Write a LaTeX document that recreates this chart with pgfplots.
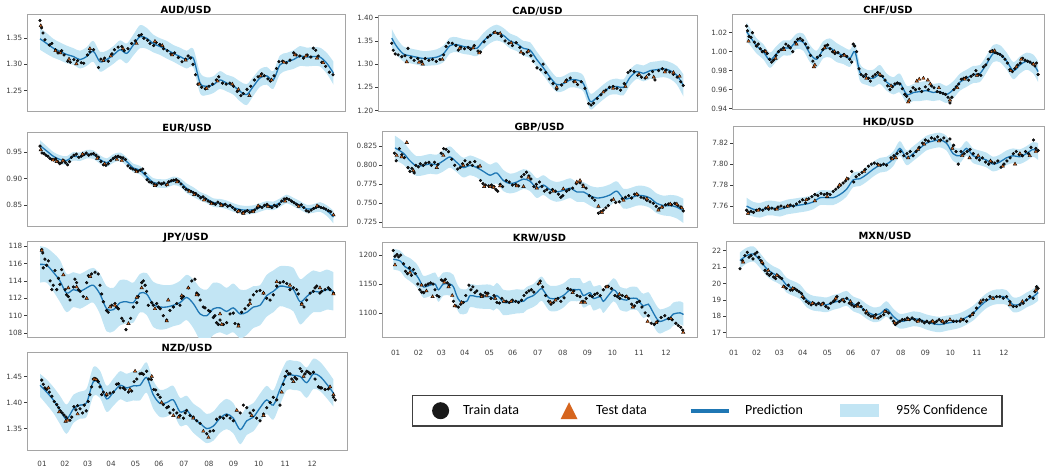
\documentclass[border=0pt]{standalone}
\usepackage{fontspec}
\setmainfont{DejaVu Sans}
\newfontfamily\legendfont{Carlito}
\usepackage{pgfplots}
\usepackage{pgfplotstable}
\pgfplotsset{compat=1.18}
\usepgfplotslibrary{fillbetween}

\definecolor{bandblue}{RGB}{194,229,244}
\definecolor{predblue}{RGB}{31,119,180}
\definecolor{testorange}{RGB}{214,101,30}
\definecolor{framegray}{RGB}{165,165,165}
\definecolor{ticktext}{RGB}{60,60,60}
\definecolor{dotblack}{RGB}{25,25,25}

\pgfplotsset{
  panel/.style={
    scale only axis,
    axis line style={draw=framegray, line width=1pt},
    xtick=\empty,
    ytick pos=left,
    tick align=outside,
    major tick length=3pt,
    ytick style={draw=ticktext, line width=0.6pt},
    yticklabel style={font=\fontsize{7.2}{8.6}\selectfont, text=ticktext, inner xsep=1.5pt},
    title style={font=\bfseries\fontsize{9.9}{11}\selectfont, at={(0.5,1)}, anchor=base, yshift=-4.5pt, inner sep=0pt},
    /pgf/number format/assume math mode=true,
    scaled y ticks=false,
  },
  months/.style={
    xtick={1,1.93,2.86,3.81,4.81,5.76,6.78,7.80,8.80,9.82,10.90,12},
    xticklabels={01,02,03,04,05,06,07,08,09,10,11,12},
    xtick style={draw=none},
    xticklabel style={font=\fontsize{7.2}{8.6}\selectfont, text=ticktext, yshift=#1},
  },
  dec/.style={yticklabel style={/pgf/number format/fixed, /pgf/number format/fixed zerofill, /pgf/number format/precision=#1}},
  predline/.style={color=predblue, line width=1.3pt, smooth, forget plot},
  train/.style={only marks, mark=*, mark size=1.4pt, mark options={draw=none, fill=dotblack}, forget plot},
  test/.style={only marks, mark=triangle*, mark size=2pt, mark options={draw=none, fill=testorange}, forget plot},
}

% confidence band (mean +/- half width) and the predicted mean
\newcommand{\bandandmean}[1]{%
  \addplot[draw=none, smooth, name path=U, forget plot] table[x=x, y expr=\thisrow{m}+\thisrow{w}] {#1};
  \addplot[draw=none, smooth, name path=L, forget plot] table[x=x, y expr=\thisrow{m}-\thisrow{w}] {#1};
  \addplot[fill=bandblue, draw=none, forget plot] fill between[of=U and L];
  \addplot[predline] table[x=x, y=m] {#1};
}

% ---------------- prediction tables: x (month), mean, half width ----------------
\pgfplotstableread{
x m w
0.92 1.349 0.021
1.19 1.340 0.020
1.46 1.331 0.018
1.73 1.325 0.017
2.00 1.319 0.017
2.28 1.315 0.016
2.55 1.309 0.017
2.82 1.315 0.018
3.09 1.325 0.020
3.36 1.305 0.019
3.63 1.309 0.017
3.91 1.318 0.017
4.18 1.328 0.018
4.45 1.321 0.019
4.72 1.337 0.020
4.99 1.353 0.022
5.26 1.350 0.020
5.53 1.340 0.017
5.81 1.334 0.016
6.08 1.328 0.017
6.35 1.321 0.016
6.62 1.315 0.017
6.89 1.309 0.017
7.16 1.312 0.018
7.44 1.264 0.020
7.71 1.258 0.017
7.98 1.261 0.016
8.25 1.270 0.017
8.52 1.264 0.016
8.79 1.259 0.017
9.07 1.248 0.019
9.34 1.242 0.020
9.61 1.258 0.018
9.88 1.274 0.017
10.15 1.278 0.017
10.42 1.270 0.017
10.69 1.299 0.018
10.97 1.305 0.017
11.24 1.309 0.018
11.51 1.316 0.019
11.78 1.314 0.018
12.05 1.315 0.018
12.32 1.314 0.018
12.60 1.302 0.020
12.87 1.283 0.022
}\audpred

\pgfplotstableread{
x m w
0.84 1.356 0.020
1.04 1.338 0.018
1.31 1.322 0.016
1.58 1.318 0.016
1.85 1.315 0.016
2.13 1.312 0.016
2.40 1.313 0.016
2.67 1.315 0.017
2.94 1.322 0.018
3.21 1.340 0.017
3.48 1.342 0.016
3.75 1.338 0.016
4.03 1.336 0.016
4.30 1.334 0.017
4.57 1.350 0.017
4.84 1.362 0.017
5.11 1.368 0.017
5.38 1.362 0.016
5.65 1.350 0.016
5.93 1.344 0.016
6.20 1.334 0.016
6.47 1.330 0.017
6.74 1.310 0.017
7.01 1.292 0.016
7.28 1.272 0.016
7.55 1.256 0.016
7.82 1.258 0.016
8.10 1.266 0.016
8.37 1.266 0.017
8.64 1.258 0.017
8.91 1.220 0.017
9.18 1.228 0.016
9.45 1.240 0.016
9.72 1.250 0.016
10.00 1.252 0.017
10.27 1.250 0.017
10.54 1.272 0.017
10.81 1.284 0.016
11.08 1.280 0.017
11.35 1.286 0.018
11.62 1.288 0.018
11.90 1.290 0.018
12.17 1.286 0.018
12.44 1.276 0.020
12.71 1.254 0.024
}\cadpred

\pgfplotstableread{
x m w
1.52 1.021 0.010
1.66 1.016 0.009
1.93 1.006 0.008
2.20 1.000 0.008
2.47 0.991 0.008
2.74 0.998 0.008
3.02 1.004 0.008
3.29 1.004 0.008
3.56 1.011 0.008
3.83 1.010 0.009
4.10 0.998 0.009
4.37 0.992 0.009
4.64 1.002 0.009
4.91 1.004 0.010
5.19 0.999 0.010
5.46 0.996 0.009
5.73 0.993 0.009
5.93 1.000 0.009
6.14 0.978 0.009
6.41 0.973 0.008
6.68 0.972 0.009
6.95 0.976 0.010
7.22 0.968 0.009
7.49 0.964 0.009
7.76 0.967 0.010
8.04 0.955 0.009
8.31 0.957 0.009
8.58 0.958 0.010
8.85 0.959 0.010
9.12 0.957 0.009
9.39 0.958 0.009
9.66 0.955 0.009
9.94 0.960 0.009
10.21 0.968 0.009
10.48 0.972 0.009
10.75 0.976 0.009
11.02 0.977 0.009
11.29 0.987 0.009
11.56 0.998 0.009
11.83 0.998 0.009
12.11 0.990 0.009
12.38 0.980 0.009
12.65 0.986 0.009
12.92 0.990 0.009
13.19 0.987 0.010
13.39 0.979 0.011
}\chfpred

\pgfplotstableread{
x m w
0.92 0.962 0.010
1.19 0.952 0.009
1.46 0.942 0.008
1.73 0.936 0.008
2.00 0.934 0.008
2.28 0.942 0.008
2.55 0.941 0.008
2.82 0.946 0.008
3.09 0.945 0.008
3.36 0.936 0.008
3.63 0.930 0.008
3.91 0.938 0.008
4.18 0.941 0.008
4.45 0.932 0.008
4.72 0.920 0.008
4.99 0.916 0.008
5.26 0.904 0.008
5.53 0.893 0.008
5.81 0.891 0.008
6.08 0.891 0.008
6.35 0.896 0.008
6.62 0.893 0.008
6.89 0.882 0.009
7.16 0.875 0.009
7.44 0.867 0.008
7.71 0.862 0.008
7.98 0.855 0.008
8.25 0.854 0.008
8.52 0.851 0.008
8.79 0.846 0.008
9.07 0.842 0.008
9.34 0.841 0.008
9.61 0.842 0.008
9.88 0.846 0.008
10.15 0.850 0.008
10.42 0.849 0.008
10.69 0.855 0.008
10.97 0.862 0.008
11.24 0.856 0.008
11.51 0.850 0.008
11.78 0.843 0.008
12.05 0.844 0.008
12.32 0.847 0.009
12.60 0.840 0.010
12.87 0.828 0.012
}\eurpred

\pgfplotstableread{
x m w
0.97 0.823 0.016
1.31 0.816 0.015
1.58 0.806 0.014
1.85 0.799 0.013
2.13 0.800 0.013
2.40 0.802 0.013
2.67 0.801 0.013
2.94 0.806 0.014
3.21 0.811 0.014
3.48 0.804 0.013
3.75 0.797 0.013
4.03 0.800 0.013
4.30 0.797 0.013
4.57 0.792 0.014
4.84 0.787 0.014
5.11 0.790 0.014
5.38 0.780 0.014
5.65 0.776 0.013
5.93 0.778 0.013
6.20 0.782 0.013
6.47 0.779 0.013
6.74 0.770 0.013
7.01 0.774 0.013
7.28 0.768 0.013
7.55 0.765 0.013
7.82 0.767 0.013
8.10 0.770 0.013
8.37 0.765 0.013
8.64 0.765 0.013
8.91 0.760 0.013
9.18 0.757 0.014
9.45 0.758 0.014
9.72 0.761 0.014
10.00 0.766 0.013
10.27 0.756 0.013
10.54 0.757 0.013
10.81 0.760 0.013
11.08 0.760 0.013
11.35 0.757 0.013
11.62 0.750 0.013
11.90 0.747 0.013
12.17 0.747 0.014
12.44 0.745 0.015
12.71 0.740 0.016
}\gbppred

\pgfplotstableread{
x m w
1.52 7.760 0.008
1.79 7.757 0.007
2.07 7.756 0.007
2.34 7.758 0.007
2.61 7.758 0.007
2.88 7.757 0.007
3.15 7.759 0.007
3.42 7.760 0.007
3.69 7.761 0.007
3.96 7.762 0.007
4.24 7.764 0.007
4.51 7.768 0.007
4.78 7.768 0.007
5.05 7.768 0.007
5.32 7.771 0.007
5.59 7.776 0.007
5.86 7.785 0.007
6.13 7.786 0.007
6.40 7.790 0.007
6.67 7.795 0.007
6.95 7.799 0.007
7.22 7.800 0.007
7.49 7.805 0.007
7.76 7.815 0.007
8.03 7.806 0.007
8.30 7.810 0.007
8.57 7.815 0.007
8.84 7.820 0.007
9.11 7.822 0.007
9.39 7.823 0.007
9.66 7.820 0.007
9.93 7.810 0.007
10.20 7.808 0.007
10.47 7.815 0.007
10.74 7.808 0.007
11.01 7.806 0.007
11.28 7.804 0.007
11.56 7.800 0.007
11.83 7.802 0.007
12.10 7.806 0.007
12.37 7.808 0.007
12.64 7.807 0.007
12.91 7.810 0.007
13.18 7.814 0.007
13.39 7.812 0.008
}\hkdpred

\pgfplotstableread{
x m w
0.92 115.9 2.1
1.19 115.8 2.0
1.46 115.0 2.2
1.73 114.0 2.4
2.00 112.6 2.2
2.28 113.0 2.0
2.55 112.8 2.0
2.82 113.2 2.0
3.09 113.5 2.0
3.36 112.5 2.3
3.63 110.8 2.6
3.91 110.7 2.5
4.18 111.5 2.6
4.45 111.6 2.5
4.72 111.5 2.3
4.99 112.6 2.2
5.26 112.5 2.4
5.53 111.3 2.6
5.81 111.0 2.6
6.08 111.0 2.5
6.35 111.2 2.4
6.62 111.5 2.5
6.89 112.1 2.6
7.16 111.4 2.8
7.44 110.2 3.0
7.71 110.0 3.0
7.98 110.8 3.0
8.25 110.9 2.8
8.52 110.5 2.7
8.79 110.9 2.8
9.07 110.2 2.8
9.34 110.4 2.6
9.61 111.0 2.4
9.88 111.2 2.3
10.15 112.3 2.4
10.42 112.8 2.4
10.69 113.4 2.3
10.97 113.3 2.4
11.24 113.0 2.5
11.51 111.6 2.6
11.78 112.2 2.5
12.05 112.8 2.4
12.32 112.7 2.3
12.60 113.0 2.3
12.87 112.8 2.2
}\jpypred

\pgfplotstableread{
x m w
0.90 1193 18
1.18 1190 18
1.38 1180 19
1.58 1175 20
1.85 1165 20
1.99 1155 20
2.13 1145 19
2.40 1148 19
2.60 1150 20
2.74 1140 21
2.94 1150 20
3.21 1150 20
3.35 1145 21
3.48 1130 22
3.62 1120 22
3.89 1120 21
4.03 1130 20
4.30 1128 20
4.57 1128 21
4.84 1128 21
4.98 1125 21
5.11 1130 22
5.25 1125 22
5.38 1118 22
5.65 1118 21
5.93 1120 21
6.20 1120 20
6.33 1125 20
6.60 1130 20
6.74 1135 21
6.94 1142 21
7.15 1130 21
7.28 1125 22
7.55 1125 22
7.82 1130 21
8.10 1140 20
8.37 1140 20
8.50 1140 20
8.64 1130 21
8.91 1135 21
9.05 1125 21
9.32 1128 20
9.45 1120 20
9.65 1130 20
9.86 1140 20
10.00 1135 20
10.13 1125 20
10.40 1122 20
10.54 1125 20
10.81 1125 20
10.94 1118 20
11.08 1112 21
11.28 1115 21
11.42 1105 22
11.62 1090 22
11.76 1085 21
11.96 1088 20
12.17 1092 20
12.30 1098 20
12.57 1100 20
12.71 1097 20
}\krwpred

\pgfplotstableread{
x m w
1.25 21.40 0.50
1.52 21.70 0.48
1.80 21.80 0.46
2.07 21.40 0.45
2.34 20.90 0.45
2.61 20.60 0.45
2.88 20.40 0.45
3.15 19.90 0.45
3.42 19.70 0.45
3.69 19.50 0.45
3.97 19.00 0.45
4.24 18.80 0.45
4.51 18.75 0.45
4.78 18.70 0.45
5.05 18.85 0.45
5.32 18.95 0.45
5.59 19.10 0.45
5.87 18.75 0.45
6.14 18.60 0.45
6.41 18.30 0.45
6.68 18.10 0.45
6.95 18.15 0.45
7.22 18.45 0.47
7.49 18.00 0.47
7.76 17.70 0.45
8.04 17.75 0.45
8.31 17.85 0.45
8.58 17.80 0.45
8.85 17.65 0.46
9.12 17.55 0.47
9.39 17.50 0.47
9.66 17.58 0.46
9.94 17.65 0.45
10.21 17.75 0.45
10.48 17.95 0.45
10.75 18.20 0.45
11.02 18.60 0.45
11.29 18.95 0.45
11.56 19.15 0.45
11.83 19.20 0.45
12.10 19.15 0.45
12.38 18.70 0.45
12.65 18.75 0.45
12.92 19.00 0.45
13.19 19.20 0.47
13.39 19.45 0.50
}\mxnpred

\pgfplotstableread{
x m w
0.92 1.433 0.022
1.19 1.420 0.024
1.46 1.405 0.025
1.73 1.386 0.027
2.00 1.368 0.028
2.28 1.388 0.027
2.55 1.395 0.026
2.82 1.400 0.027
3.09 1.440 0.028
3.36 1.435 0.026
3.63 1.407 0.025
3.91 1.420 0.026
4.18 1.433 0.027
4.45 1.428 0.027
4.72 1.432 0.028
4.99 1.433 0.029
5.26 1.448 0.029
5.53 1.415 0.027
5.81 1.398 0.026
6.08 1.400 0.027
6.35 1.405 0.027
6.62 1.382 0.027
6.89 1.385 0.028
7.16 1.370 0.028
7.44 1.360 0.029
7.71 1.350 0.028
7.98 1.355 0.028
8.25 1.370 0.028
8.52 1.378 0.029
8.79 1.370 0.029
9.07 1.348 0.028
9.34 1.365 0.027
9.61 1.372 0.027
9.88 1.390 0.027
10.15 1.405 0.027
10.42 1.395 0.028
10.69 1.425 0.029
10.97 1.452 0.028
11.24 1.452 0.028
11.51 1.450 0.028
11.78 1.438 0.029
12.05 1.455 0.029
12.32 1.450 0.028
12.60 1.435 0.027
12.87 1.418 0.026
}\nzdpred

\begin{document}
\begin{tikzpicture}

% ---------------- AUD/USD ----------------
\begin{axis}[panel, at={(27pt,357pt)}, anchor=south west, width=318pt, height=97pt,
  xmin=0.389, xmax=13.34, ymin=1.2086, ymax=1.3946,
  ytick={1.25,1.30,1.35}, dec=2, title={AUD/USD}]
\bandandmean{\audpred}
\addplot[train] coordinates {(0.92,1.384) (0.98,1.370) (1.04,1.360) (1.12,1.347) (1.30,1.337) (1.40,1.340) (1.55,1.328) (1.65,1.322) (1.80,1.326) (1.90,1.318) (2.05,1.306) (2.15,1.304) (2.30,1.309) (2.45,1.307) (2.60,1.303) (2.70,1.302) (2.85,1.318) (2.95,1.324) (3.10,1.328) (3.30,1.294) (3.40,1.310) (3.55,1.312) (3.70,1.306) (3.85,1.320) (3.95,1.328) (4.10,1.333) (4.25,1.334) (4.35,1.326) (4.50,1.330) (4.65,1.340) (4.80,1.345) (4.95,1.355) (5.05,1.357) (5.15,1.350) (5.30,1.346) (5.40,1.340) (5.55,1.336) (5.65,1.342) (5.80,1.338) (5.95,1.330) (6.10,1.326) (6.25,1.320) (6.40,1.322) (6.55,1.313) (6.70,1.305) (6.85,1.310) (6.95,1.316) (7.05,1.312) (7.15,1.300) (7.25,1.280) (7.35,1.262) (7.50,1.256) (7.65,1.253) (7.80,1.258) (7.95,1.262) (8.10,1.270) (8.20,1.276) (8.35,1.264) (8.50,1.262) (8.65,1.264) (8.80,1.258) (8.95,1.248) (9.10,1.240) (9.20,1.244) (9.35,1.252) (9.50,1.258) (9.65,1.270) (9.80,1.276) (9.95,1.282) (10.05,1.278) (10.20,1.272) (10.30,1.268) (10.45,1.278) (10.55,1.292) (10.65,1.305) (10.80,1.306) (10.95,1.303) (11.10,1.308) (11.25,1.322) (11.35,1.318) (11.50,1.316) (11.65,1.312) (11.80,1.318) (11.95,1.314) (12.05,1.331) (12.15,1.327) (12.25,1.316) (12.40,1.304) (12.55,1.296) (12.70,1.285) (12.85,1.280)};
\addplot[test] coordinates {(0.95,1.374) (1.55,1.326) (1.75,1.322) (2.10,1.310) (2.40,1.301) (2.95,1.330) (3.50,1.307) (3.80,1.316) (4.30,1.330) (4.85,1.340) (5.60,1.344) (5.90,1.336) (6.30,1.318) (6.85,1.308) (7.40,1.262) (7.70,1.254) (8.15,1.268) (8.75,1.262) (9.00,1.252) (9.45,1.240) (9.90,1.278) (10.35,1.270) (10.85,1.304) (11.30,1.318) (11.75,1.316) (12.20,1.312) (12.45,1.303)};
\end{axis}

% ---------------- CAD/USD ----------------
\begin{axis}[panel, at={(378pt,357pt)}, anchor=south west, width=319pt, height=96pt,
  xmin=0.280, xmax=13.26, ymin=1.197, ymax=1.4036,
  ytick={1.20,1.25,1.30,1.35,1.40}, dec=2, title={CAD/USD}]
\bandandmean{\cadpred}
\addplot[train] coordinates {(0.84,1.345) (0.90,1.330) (0.98,1.322) (1.10,1.320) (1.25,1.316) (1.38,1.318) (1.50,1.334) (1.62,1.314) (1.75,1.308) (1.90,1.312) (2.05,1.306) (2.20,1.312) (2.35,1.308) (2.50,1.310) (2.65,1.306) (2.80,1.310) (2.95,1.320) (3.05,1.338) (3.15,1.346) (3.30,1.345) (3.45,1.340) (3.55,1.330) (3.65,1.336) (3.80,1.333) (3.95,1.336) (4.05,1.332) (4.20,1.340) (4.35,1.328) (4.45,1.326) (4.60,1.348) (4.75,1.358) (4.85,1.362) (5.00,1.368) (5.15,1.366) (5.30,1.360) (5.45,1.350) (5.60,1.345) (5.75,1.340) (5.90,1.346) (6.05,1.336) (6.20,1.322) (6.35,1.326) (6.50,1.318) (6.60,1.306) (6.75,1.292) (6.90,1.288) (7.00,1.300) (7.10,1.282) (7.25,1.268) (7.40,1.258) (7.55,1.246) (7.75,1.255) (7.95,1.266) (8.10,1.270) (8.25,1.262) (8.40,1.256) (8.55,1.262) (8.70,1.248) (8.85,1.215) (8.95,1.212) (9.05,1.216) (9.20,1.226) (9.35,1.234) (9.55,1.244) (9.70,1.250) (9.85,1.252) (10.00,1.248) (10.15,1.244) (10.30,1.258) (10.45,1.282) (10.55,1.286) (10.70,1.284) (10.85,1.276) (11.00,1.272) (11.15,1.270) (11.30,1.278) (11.45,1.284) (11.55,1.266) (11.70,1.286) (11.85,1.290) (12.00,1.287) (12.15,1.283) (12.30,1.278) (12.45,1.272) (12.60,1.262) (12.70,1.254)};
\addplot[test] coordinates {(1.45,1.305) (1.95,1.304) (2.10,1.300) (2.90,1.310) (3.60,1.334) (4.15,1.335) (4.40,1.324) (5.05,1.368) (5.25,1.366) (5.70,1.346) (6.10,1.326) (6.40,1.328) (7.55,1.250) (7.90,1.262) (8.30,1.262) (9.45,1.240) (9.85,1.248) (10.35,1.252) (10.90,1.278) (11.20,1.272) (11.50,1.272) (11.95,1.283) (12.30,1.282) (12.55,1.274)};
\end{axis}

% ---------------- CHF/USD ----------------
\begin{axis}[panel, at={(732pt,359pt)}, anchor=south west, width=312pt, height=95pt,
  xmin=0.927, xmax=13.63, ymin=0.9386, ymax=1.0386,
  ytick={0.94,0.96,0.98,1.00,1.02}, dec=2, title={CHF/USD}]
\bandandmean{\chfpred}
\addplot[train] coordinates {(1.52,1.027) (1.56,1.022) (1.62,1.016) (1.70,1.015) (1.76,1.020) (1.84,1.010) (1.92,1.006) (2.00,1.008) (2.08,1.003) (2.16,1.000) (2.26,1.001) (2.36,0.998) (2.46,0.992) (2.54,0.989) (2.62,0.991) (2.72,0.996) (2.82,1.000) (2.92,1.002) (3.02,1.004) (3.12,1.008) (3.22,1.006) (3.30,1.004) (3.40,1.000) (3.50,1.010) (3.60,1.013) (3.70,1.014) (3.80,1.012) (3.92,1.008) (4.02,1.004) (4.12,0.996) (4.22,0.990) (4.40,0.994) (4.52,0.996) (4.62,1.002) (4.72,1.006) (4.82,1.007) (4.92,1.003) (5.02,1.000) (5.12,0.998) (5.24,0.999) (5.36,0.995) (5.48,0.997) (5.60,0.995) (5.72,0.992) (5.80,0.989) (5.86,1.008) (5.92,1.006) (6.00,1.000) (6.10,0.982) (6.18,0.976) (6.28,0.974) (6.38,0.976) (6.48,0.972) (6.56,0.969) (6.66,0.974) (6.76,0.976) (6.86,0.978) (6.96,0.975) (7.06,0.974) (7.16,0.970) (7.26,0.964) (7.36,0.960) (7.46,0.963) (7.56,0.966) (7.66,0.967) (7.76,0.966) (7.86,0.961) (7.96,0.955) (8.04,0.953) (8.20,0.958) (8.30,0.962) (8.40,0.960) (8.55,0.961) (8.65,0.958) (8.80,0.963) (8.92,0.960) (9.05,0.964) (9.15,0.962) (9.28,0.958) (9.40,0.957) (9.52,0.956) (9.62,0.955) (9.72,0.952) (9.80,0.946) (9.88,0.952) (9.96,0.960) (10.06,0.963) (10.16,0.966) (10.26,0.971) (10.36,0.972) (10.46,0.973) (10.56,0.970) (10.66,0.974) (10.76,0.976) (10.86,0.980) (10.96,0.976) (11.06,0.975) (11.16,0.984) (11.26,0.986) (11.36,0.992) (11.44,1.000) (11.54,1.001) (11.64,0.999) (11.74,0.998) (11.84,0.997) (11.94,0.995) (12.04,0.992) (12.14,0.988) (12.24,0.981) (12.34,0.979) (12.44,0.982) (12.56,0.986) (12.66,0.988) (12.76,0.993) (12.86,0.991) (12.96,0.990) (13.06,0.989) (13.16,0.987) (13.26,0.985) (13.32,0.988) (13.39,0.976)};
\addplot[test] coordinates {(1.60,1.011) (2.30,1.000) (2.70,0.993) (3.05,1.002) (3.55,1.008) (4.26,0.984) (4.30,0.986) (4.70,1.004) (5.10,1.000) (5.50,0.996) (6.40,0.972) (6.95,0.976) (7.40,0.964) (8.10,0.947) (8.14,0.949) (8.45,0.969) (8.55,0.971) (8.72,0.972) (8.90,0.970) (9.00,0.966) (9.35,0.962) (9.80,0.949) (10.10,0.962) (10.40,0.971) (10.90,0.975) (11.50,1.000) (11.62,1.001) (12.28,0.980) (12.50,0.984) (12.70,0.992) (13.20,0.987)};
\end{axis}

% ---------------- EUR/USD ----------------
\begin{axis}[panel, at={(27pt,242pt)}, anchor=south west, width=320pt, height=94pt,
  xmin=0.389, xmax=13.42, ymin=0.8094, ymax=0.9856,
  ytick={0.85,0.90,0.95}, dec=2, title={EUR/USD}]
\bandandmean{\eurpred}
\addplot[train] coordinates {(0.92,0.961) (1.00,0.948) (1.08,0.947) (1.16,0.944) (1.24,0.942) (1.32,0.938) (1.40,0.936) (1.48,0.935) (1.56,0.937) (1.64,0.932) (1.72,0.928) (1.80,0.930) (1.88,0.934) (1.96,0.930) (2.04,0.926) (2.12,0.932) (2.20,0.940) (2.30,0.944) (2.40,0.946) (2.50,0.940) (2.60,0.942) (2.70,0.945) (2.80,0.948) (2.90,0.944) (3.00,0.946) (3.10,0.947) (3.20,0.944) (3.30,0.940) (3.40,0.932) (3.50,0.926) (3.60,0.925) (3.70,0.928) (3.80,0.934) (3.90,0.938) (4.00,0.941) (4.10,0.942) (4.20,0.940) (4.30,0.939) (4.40,0.936) (4.50,0.924) (4.60,0.920) (4.70,0.918) (4.80,0.916) (4.90,0.914) (5.00,0.916) (5.10,0.918) (5.20,0.910) (5.28,0.898) (5.36,0.894) (5.46,0.893) (5.56,0.890) (5.66,0.888) (5.76,0.892) (5.86,0.890) (5.96,0.892) (6.06,0.888) (6.16,0.894) (6.26,0.896) (6.36,0.897) (6.46,0.898) (6.56,0.895) (6.66,0.890) (6.76,0.884) (6.86,0.880) (6.96,0.878) (7.06,0.876) (7.16,0.874) (7.26,0.872) (7.36,0.868) (7.46,0.864) (7.56,0.866) (7.66,0.862) (7.76,0.858) (7.86,0.856) (7.96,0.854) (8.06,0.852) (8.16,0.856) (8.26,0.853) (8.36,0.850) (8.46,0.852) (8.56,0.848) (8.66,0.850) (8.76,0.846) (8.86,0.842) (8.96,0.838) (9.06,0.840) (9.16,0.836) (9.26,0.838) (9.36,0.840) (9.46,0.837) (9.56,0.839) (9.66,0.841) (9.76,0.845) (9.86,0.848) (9.96,0.846) (10.06,0.850) (10.16,0.852) (10.26,0.848) (10.36,0.846) (10.46,0.850) (10.56,0.848) (10.66,0.852) (10.76,0.858) (10.86,0.862) (10.96,0.863) (11.06,0.861) (11.16,0.858) (11.26,0.855) (11.36,0.852) (11.46,0.849) (11.56,0.851) (11.66,0.846) (11.76,0.840) (11.86,0.838) (11.96,0.841) (12.06,0.844) (12.16,0.846) (12.26,0.848) (12.36,0.846) (12.46,0.845) (12.56,0.843) (12.66,0.840) (12.76,0.838)};
\addplot[test] coordinates {(0.95,0.954) (1.45,0.935) (1.60,0.932) (1.85,0.934) (2.65,0.946) (3.25,0.938) (3.55,0.928) (4.05,0.936) (4.25,0.934) (4.85,0.913) (5.60,0.887) (6.10,0.889) (6.50,0.894) (7.00,0.876) (7.20,0.870) (7.60,0.860) (7.90,0.853) (8.30,0.850) (9.00,0.839) (9.20,0.835) (9.60,0.838) (9.80,0.849) (10.20,0.848) (10.90,0.858) (11.45,0.848) (12.20,0.849) (12.87,0.832)};
\end{axis}

% ---------------- GBP/USD ----------------
\begin{axis}[panel, at={(382pt,241pt)}, anchor=south west, width=315pt, height=96pt,
  xmin=0.442, xmax=13.26, ymin=0.7175, ymax=0.8439,
  ytick={0.725,0.750,0.775,0.800,0.825}, dec=3, title={GBP/USD}]
\bandandmean{\gbppred}
\addplot[train] coordinates {(0.95,0.816) (1.02,0.806) (1.15,0.822) (1.25,0.814) (1.35,0.810) (1.50,0.797) (1.58,0.792) (1.66,0.796) (1.75,0.790) (1.82,0.800) (1.92,0.798) (2.00,0.802) (2.12,0.800) (2.22,0.803) (2.35,0.804) (2.45,0.800) (2.58,0.804) (2.72,0.801) (2.85,0.816) (2.95,0.822) (3.05,0.821) (3.15,0.818) (3.28,0.808) (3.40,0.800) (3.52,0.795) (3.62,0.797) (3.72,0.802) (3.82,0.806) (3.92,0.801) (4.02,0.804) (4.12,0.800) (4.22,0.805) (4.35,0.798) (4.45,0.780) (4.55,0.776) (4.65,0.774) (4.78,0.773) (4.90,0.774) (5.00,0.772) (5.08,0.768) (5.15,0.766) (5.25,0.775) (5.35,0.772) (5.50,0.780) (5.62,0.778) (5.75,0.774) (5.88,0.775) (6.00,0.773) (6.12,0.785) (6.22,0.788) (6.32,0.791) (6.42,0.786) (6.50,0.782) (6.62,0.772) (6.72,0.775) (6.85,0.778) (6.95,0.772) (7.05,0.766) (7.15,0.768) (7.28,0.764) (7.38,0.768) (7.50,0.766) (7.62,0.762) (7.72,0.758) (7.80,0.760) (7.95,0.766) (8.05,0.768) (8.20,0.770) (8.35,0.776) (8.50,0.777) (8.62,0.774) (8.75,0.770) (8.88,0.760) (9.00,0.757) (9.10,0.754) (9.25,0.737) (9.35,0.739) (9.45,0.741) (9.55,0.744) (9.65,0.747) (9.78,0.754) (9.95,0.751) (10.10,0.752) (10.22,0.756) (10.35,0.758) (10.48,0.760) (10.60,0.757) (10.72,0.762) (10.85,0.761) (10.98,0.758) (11.10,0.757) (11.22,0.754) (11.35,0.752) (11.48,0.750) (11.60,0.746) (11.72,0.743) (11.85,0.745) (11.98,0.748) (12.10,0.749) (12.22,0.748) (12.35,0.750) (12.48,0.747) (12.60,0.745) (12.70,0.740)};
\addplot[test] coordinates {(1.04,0.813) (1.24,0.811) (1.45,0.830) (1.72,0.793) (2.67,0.797) (2.94,0.813) (3.75,0.800) (4.43,0.799) (4.60,0.772) (4.84,0.772) (4.98,0.771) (5.25,0.773) (5.93,0.773) (6.20,0.772) (6.40,0.784) (6.74,0.770) (7.42,0.766) (7.82,0.769) (8.37,0.778) (8.50,0.780) (8.64,0.772) (9.25,0.746) (9.39,0.738) (9.86,0.755) (10.27,0.754) (10.81,0.762) (11.22,0.756) (11.69,0.741) (11.83,0.745) (12.17,0.749) (12.44,0.749) (12.64,0.744)};
\end{axis}

% ---------------- HKD/USD ----------------
\begin{axis}[panel, at={(733pt,245pt)}, anchor=south west, width=311pt, height=97pt,
  xmin=0.967, xmax=13.63, ymin=7.7429, ymax=7.8354,
  ytick={7.76,7.78,7.80,7.82}, dec=2, title={HKD/USD}]
\bandandmean{\hkdpred}
\addplot[train] coordinates {(1.52,7.756) (1.60,7.754) (1.70,7.755) (1.80,7.754) (1.92,7.756) (2.05,7.757) (2.18,7.756) (2.30,7.758) (2.42,7.757) (2.55,7.758) (2.68,7.757) (2.80,7.759) (2.92,7.760) (3.05,7.759) (3.18,7.760) (3.30,7.761) (3.42,7.760) (3.55,7.762) (3.68,7.764) (3.80,7.766) (3.92,7.763) (4.05,7.767) (4.18,7.769) (4.30,7.771) (4.42,7.770) (4.55,7.772) (4.68,7.771) (4.80,7.772) (4.92,7.771) (5.05,7.774) (5.15,7.776) (5.25,7.778) (5.35,7.780) (5.45,7.782) (5.55,7.784) (5.65,7.786) (5.80,7.793) (5.88,7.783) (5.98,7.788) (6.10,7.790) (6.22,7.792) (6.35,7.795) (6.48,7.798) (6.60,7.800) (6.72,7.801) (6.85,7.800) (6.98,7.799) (7.10,7.800) (7.22,7.799) (7.40,7.806) (7.52,7.808) (7.65,7.810) (7.78,7.812) (7.92,7.808) (8.05,7.810) (8.18,7.812) (8.30,7.808) (8.42,7.812) (8.55,7.816) (8.68,7.820) (8.80,7.823) (8.92,7.822) (9.05,7.825) (9.18,7.824) (9.30,7.826) (9.42,7.823) (9.55,7.825) (9.68,7.822) (9.80,7.824) (9.95,7.818) (10.05,7.812) (10.14,7.800) (10.25,7.812) (10.38,7.810) (10.50,7.812) (10.62,7.814) (10.75,7.810) (10.88,7.806) (11.00,7.804) (11.12,7.806) (11.25,7.802) (11.38,7.800) (11.50,7.802) (11.62,7.801) (11.75,7.803) (11.88,7.797) (12.00,7.800) (12.12,7.803) (12.25,7.806) (12.38,7.810) (12.50,7.812) (12.62,7.809) (12.75,7.808) (12.88,7.812) (13.00,7.810) (13.10,7.816) (13.20,7.823) (13.30,7.815) (13.39,7.813)};
\addplot[test] coordinates {(1.58,7.753) (2.00,7.756) (2.40,7.759) (2.75,7.757) (3.20,7.760) (3.95,7.766) (4.30,7.765) (4.80,7.769) (5.30,7.780) (5.60,7.786) (6.30,7.793) (6.90,7.799) (7.45,7.805) (7.60,7.806) (8.10,7.806) (8.50,7.814) (8.75,7.819) (9.35,7.822) (9.90,7.815) (10.30,7.808) (10.60,7.806) (10.95,7.808) (11.45,7.803) (11.95,7.798) (12.45,7.800) (12.65,7.810) (13.05,7.808) (13.30,7.812)};
\end{axis}

% ---------------- JPY/USD ----------------
\begin{axis}[panel, at={(27pt,131pt)}, anchor=south west, width=318pt, height=96pt,
  xmin=0.389, xmax=13.34, ymin=107.44, ymax=118.47,
  ytick={108,110,112,114,116,118}, title={JPY/USD}]
\bandandmean{\jpypred}
\addplot[train] coordinates {(0.99,117.6) (1.03,117.2) (1.05,115.5) (1.12,116.5) (1.19,115.8) (1.26,116.3) (1.33,114.0) (1.40,113.0) (1.46,113.5) (1.53,115.2) (1.60,113.0) (1.67,114.3) (1.73,113.6) (1.80,115.3) (1.94,113.0) (2.00,112.4) (2.07,112.2) (2.14,111.8) (2.28,113.3) (2.34,114.2) (2.41,113.8) (2.48,113.0) (2.55,112.8) (2.68,112.2) (2.82,113.8) (2.89,114.6) (3.02,114.8) (3.16,115.0) (3.29,114.8) (3.36,113.5) (3.43,112.5) (3.50,111.6) (3.63,110.6) (3.70,110.4) (3.84,111.2) (3.97,111.4) (4.04,111.0) (4.11,110.8) (4.25,109.7) (4.31,109.4) (4.42,108.4) (4.61,109.7) (4.72,111.0) (4.86,111.5) (4.92,112.2) (5.06,113.8) (5.13,114.0) (5.20,113.5) (5.26,112.8) (5.33,111.2) (5.47,111.5) (5.53,111.2) (5.67,111.4) (5.74,111.0) (5.81,110.8) (5.94,110.0) (6.08,109.5) (6.21,110.6) (6.35,111.0) (6.49,111.4) (6.62,111.2) (6.69,112.0) (6.76,112.2) (6.96,113.2) (7.10,114.0) (7.23,114.2) (7.30,112.6) (7.37,112.4) (7.44,111.8) (7.57,111.0) (7.64,110.9) (7.78,110.6) (7.84,110.5) (7.98,109.8) (8.04,110.0) (8.11,109.2) (8.18,109.0) (8.25,109.5) (8.39,109.0) (8.52,109.2) (8.66,110.2) (8.79,110.3) (8.86,109.1) (9.00,109.0) (9.13,110.4) (9.27,110.8) (9.40,111.2) (9.47,111.8) (9.61,112.4) (9.74,112.8) (9.88,112.9) (10.02,112.6) (10.15,112.0) (10.29,111.8) (10.42,112.4) (10.56,113.4) (10.69,113.8) (10.83,113.9) (10.97,113.7) (11.10,113.0) (11.24,113.2) (11.37,113.0) (11.44,112.5) (11.58,111.4) (11.67,111.0) (11.78,111.8) (11.92,112.6) (12.05,112.8) (12.12,113.2) (12.19,113.4) (12.32,112.6) (12.39,112.8) (12.53,113.0) (12.66,113.2) (12.73,113.0) (12.87,112.6)};
\addplot[test] coordinates {(0.99,117.5) (1.87,114.7) (2.07,113.2) (2.41,113.3) (2.82,112.0) (2.96,114.5) (3.77,111.0) (3.97,111.2) (4.52,109.1) (4.86,112.1) (5.06,113.2) (5.60,110.8) (6.08,109.4) (6.14,111.8) (6.69,112.3) (6.96,113.2) (7.30,112.4) (8.25,110.2) (8.32,109.0) (9.00,108.8) (9.47,111.4) (10.02,112.6) (10.56,113.9) (11.10,113.5) (11.58,111.3) (12.32,113.2) (12.87,112.5)};
\end{axis}

% ---------------- KRW/USD ----------------
\begin{axis}[panel, months=-6pt, at={(382pt,131pt)}, anchor=south west, width=315pt, height=95pt,
  xmin=0.442, xmax=13.26, ymin=1056.4, ymax=1221.1,
  ytick={1100,1150,1200}, yticklabel style={/pgf/number format/1000 sep={}}, title={KRW/USD}]
\bandandmean{\krwpred}
\addplot[train] coordinates {(0.90,1208) (0.97,1198) (1.05,1201) (1.12,1197) (1.20,1200) (1.32,1185) (1.40,1172) (1.48,1168) (1.56,1178) (1.64,1165) (1.72,1175) (1.80,1168) (1.90,1150) (1.98,1140) (2.06,1136) (2.14,1135) (2.22,1148) (2.32,1150) (2.42,1152) (2.52,1150) (2.60,1140) (2.68,1130) (2.76,1128) (2.86,1157) (2.94,1155) (3.02,1158) (3.10,1152) (3.18,1148) (3.35,1120) (3.45,1112) (3.55,1110) (3.65,1115) (3.75,1118) (3.85,1130) (3.98,1148) (4.06,1140) (4.14,1145) (4.22,1135) (4.30,1138) (4.45,1132) (4.55,1130) (4.65,1135) (4.75,1134) (4.88,1125) (5.00,1130) (5.12,1118) (5.22,1117) (5.32,1125) (5.50,1120) (5.62,1118) (5.75,1122) (5.88,1120) (6.00,1118) (6.12,1122) (6.22,1130) (6.32,1135) (6.42,1138) (6.52,1140) (6.62,1136) (6.80,1150) (6.88,1155) (6.98,1145) (7.10,1130) (7.22,1120) (7.32,1115) (7.42,1118) (7.60,1125) (7.72,1120) (7.85,1126) (8.00,1142) (8.12,1140) (8.25,1138) (8.38,1130) (8.50,1128) (8.62,1120) (8.75,1125) (8.90,1130) (9.00,1128) (9.10,1132) (9.20,1134) (9.32,1130) (9.45,1140) (9.55,1145) (9.65,1146) (9.78,1142) (9.92,1130) (10.02,1128) (10.12,1125) (10.22,1130) (10.35,1128) (10.48,1125) (10.60,1115) (10.72,1112) (10.82,1118) (10.92,1120) (11.02,1110) (11.15,1100) (11.28,1095) (11.40,1082) (11.52,1080) (11.65,1085) (11.80,1092) (11.95,1095) (12.10,1090) (12.25,1088) (12.40,1082) (12.50,1078) (12.60,1075) (12.68,1070)};
\addplot[test] coordinates {(0.97,1183) (1.58,1170) (2.05,1148) (2.25,1138) (2.50,1128) (2.98,1153) (3.15,1145) (3.30,1130) (3.40,1112) (3.68,1118) (4.50,1128) (4.70,1130) (5.05,1125) (5.40,1120) (5.70,1120) (6.85,1152) (7.30,1118) (7.50,1122) (8.20,1135) (8.55,1118) (8.70,1118) (9.60,1145) (10.10,1132) (10.40,1128) (10.65,1110) (11.25,1085) (11.60,1083) (12.20,1090) (12.70,1066)};
\end{axis}

% ---------------- MXN/USD ----------------
\begin{axis}[panel, months=-6pt, at={(726pt,131pt)}, anchor=south west, width=318pt, height=97pt,
  xmin=0.682, xmax=13.63, ymin=16.68, ymax=22.59,
  ytick={17,18,19,20,21,22}, title={MXN/USD}]
\bandandmean{\mxnpred}
\addplot[train] coordinates {(1.25,20.9) (1.35,21.4) (1.45,21.7) (1.55,21.9) (1.62,21.6) (1.70,21.7) (1.78,21.5) (1.86,21.8) (1.94,21.9) (2.02,21.6) (2.10,21.4) (2.18,21.2) (2.27,20.8) (2.36,20.6) (2.45,20.5) (2.53,20.6) (2.62,20.4) (2.70,20.3) (2.78,20.5) (2.86,20.4) (2.95,20.3) (3.05,19.8) (3.14,19.7) (3.22,19.9) (3.30,19.6) (3.38,19.6) (3.47,19.7) (3.56,19.6) (3.65,19.5) (3.75,19.4) (3.85,19.1) (3.95,18.9) (4.05,18.8) (4.15,18.7) (4.25,18.8) (4.35,18.7) (4.45,18.8) (4.55,18.7) (4.65,18.8) (4.75,18.6) (4.85,18.5) (4.95,18.8) (5.05,18.9) (5.12,19.0) (5.20,19.2) (5.30,18.9) (5.40,19.0) (5.50,18.9) (5.60,19.1) (5.70,18.8) (5.80,18.7) (5.90,18.6) (6.00,18.7) (6.08,18.8) (6.18,18.6) (6.28,18.4) (6.38,18.2) (6.48,18.1) (6.58,18.0) (6.68,18.0) (6.78,18.1) (6.88,17.9) (6.98,18.0) (7.10,18.1) (7.20,18.3) (7.30,18.2) (7.40,17.9) (7.50,17.7) (7.58,17.5) (7.66,17.6) (7.76,17.7) (7.86,17.8) (7.96,17.8) (8.06,17.9) (8.16,17.8) (8.26,17.9) (8.36,17.8) (8.46,17.7) (8.56,17.8) (8.66,17.7) (8.76,17.6) (8.86,17.7) (8.96,17.6) (9.06,17.7) (9.16,17.6) (9.26,17.7) (9.36,17.8) (9.46,17.7) (9.56,17.6) (9.66,17.7) (9.94,17.7) (10.07,17.7) (10.21,17.7) (10.34,17.8) (10.48,17.7) (10.61,18.0) (10.75,18.2) (10.88,18.5) (11.02,18.8) (11.15,19.0) (11.29,19.0) (11.43,19.2) (11.56,19.1) (11.70,19.2) (11.83,19.2) (11.97,19.1) (12.11,19.2) (12.24,18.9) (12.38,18.6) (12.51,18.6) (12.65,18.7) (12.78,18.8) (12.92,19.0) (13.05,19.2) (13.19,19.1) (13.26,19.5) (13.33,19.8) (13.39,19.7)};
\addplot[test] coordinates {(1.38,21.3) (2.15,21.3) (2.40,20.8) (2.75,20.5) (3.02,19.8) (3.40,19.7) (3.80,19.2) (4.20,18.8) (4.60,18.75) (5.15,19.1) (5.45,19.0) (5.75,18.9) (6.05,18.6) (6.40,18.3) (6.75,17.9) (7.15,18.3) (7.55,17.6) (8.10,17.8) (8.50,17.7) (9.10,17.7) (9.50,17.7) (9.80,17.8) (10.25,17.8) (10.70,18.1) (11.05,18.9) (11.55,19.1) (12.25,18.7) (12.75,18.9) (13.30,19.6)};
\end{axis}

% ---------------- NZD/USD (carries the shared legend) ----------------
\begin{axis}[panel, months=-5pt, at={(27pt,19pt)}, anchor=south west, width=320pt, height=97pt,
  xmin=0.389, xmax=13.42, ymin=1.309, ymax=1.4949,
  ytick={1.35,1.40,1.45}, dec=2, title={NZD/USD},
  legend columns=4,
  legend style={at={(2.126,0.405)}, anchor=center, draw=black!75, line width=1.1pt,
    inner sep=0pt, /tikz/column sep=0pt,
    font=\legendfont\fontsize{14}{16}\selectfont,
    nodes={inner sep=0pt, anchor=west}}]
\bandandmean{\nzdpred}
\addplot[train] coordinates {(0.99,1.443) (1.05,1.435) (1.12,1.428) (1.19,1.425) (1.30,1.420) (1.40,1.412) (1.50,1.402) (1.60,1.396) (1.68,1.390) (1.75,1.384) (1.82,1.380) (1.90,1.376) (1.98,1.372) (2.14,1.366) (2.21,1.372) (2.30,1.392) (2.38,1.386) (2.45,1.394) (2.55,1.388) (2.65,1.380) (2.72,1.395) (2.80,1.384) (2.88,1.402) (2.95,1.415) (3.02,1.430) (3.09,1.445) (3.16,1.446) (3.23,1.444) (3.29,1.440) (3.36,1.430) (3.43,1.415) (3.50,1.420) (3.64,1.414) (3.77,1.418) (3.91,1.420) (4.04,1.435) (4.11,1.436) (4.18,1.428) (4.31,1.428) (4.38,1.425) (4.52,1.420) (4.65,1.422) (4.75,1.440) (4.86,1.445) (4.99,1.455) (5.06,1.456) (5.13,1.454) (5.26,1.460) (5.35,1.445) (5.45,1.444) (5.55,1.425) (5.63,1.424) (5.72,1.415) (5.81,1.410) (5.94,1.396) (6.08,1.390) (6.15,1.392) (6.21,1.380) (6.35,1.386) (6.49,1.380) (6.62,1.375) (6.76,1.370) (6.83,1.380) (6.89,1.385) (7.03,1.375) (7.16,1.372) (7.30,1.365) (7.44,1.360) (7.71,1.340) (7.84,1.345) (7.98,1.346) (8.11,1.368) (8.25,1.372) (8.39,1.370) (8.52,1.375) (8.66,1.370) (8.79,1.365) (9.07,1.380) (9.20,1.395) (9.34,1.390) (9.47,1.380) (9.61,1.385) (9.74,1.370) (9.88,1.365) (10.02,1.378) (10.15,1.390) (10.29,1.400) (10.42,1.410) (10.56,1.405) (10.69,1.395) (10.83,1.435) (10.90,1.450) (10.97,1.460) (11.04,1.455) (11.10,1.455) (11.17,1.445) (11.30,1.448) (11.37,1.445) (11.51,1.465) (11.58,1.460) (11.71,1.455) (11.78,1.460) (11.85,1.458) (11.92,1.455) (12.05,1.458) (12.12,1.445) (12.26,1.430) (12.33,1.428) (12.39,1.428) (12.53,1.425) (12.66,1.426) (12.87,1.410) (12.94,1.405)};
\addplot[test] coordinates {(1.26,1.428) (1.70,1.382) (1.96,1.364) (2.04,1.366) (2.45,1.378) (3.12,1.445) (3.20,1.444) (3.63,1.416) (4.58,1.425) (4.79,1.460) (5.47,1.450) (5.87,1.400) (6.35,1.375) (6.56,1.372) (7.16,1.370) (7.57,1.345) (7.78,1.333) (8.93,1.385) (9.54,1.375) (10.02,1.375) (10.76,1.420) (11.24,1.440) (11.65,1.450) (12.73,1.430) (12.87,1.415)};
\addlegendimage{legend image code/.code={\path[draw=none] (-28pt,-15.25pt) rectangle (22.4pt,15.25pt); \fill[dotblack, draw=none] (0pt,0pt) circle (8.5pt);}}
\addlegendentry{\makebox[58pt][l]{Train data}}
\addlegendimage{legend image code/.code={\path[draw=none] (-48pt,-15.25pt) rectangle (27pt,15.25pt); \fill[testorange, draw=none] (-8.5pt,-8.5pt) -- (8.5pt,-8.5pt) -- (0pt,8.5pt) -- cycle;}}
\addlegendentry{\makebox[50pt][l]{Test data}}
\addlegendimage{legend image code/.code={\path[draw=none] (-63.8pt,-15.25pt) rectangle (35.2pt,15.25pt); \draw[predblue, line width=4pt] (-19.2pt,0pt) -- (19.2pt,0pt);}}
\addlegendentry{\makebox[57pt][l]{Prediction}}
\addlegendimage{legend image code/.code={\path[draw=none] (-57.5pt,-15.25pt) rectangle (36.5pt,15.25pt); \fill[bandblue, draw=none] (-19.5pt,-6.7pt) rectangle (19.5pt,6.7pt);}}
\addlegendentry{\makebox[106pt][l]{95\% Confidence}}
\end{axis}

% fixed page frame
\pgfresetboundingbox
\path[use as bounding box] (0pt,0pt) rectangle (1045pt,469pt);
\end{tikzpicture}
\end{document}
